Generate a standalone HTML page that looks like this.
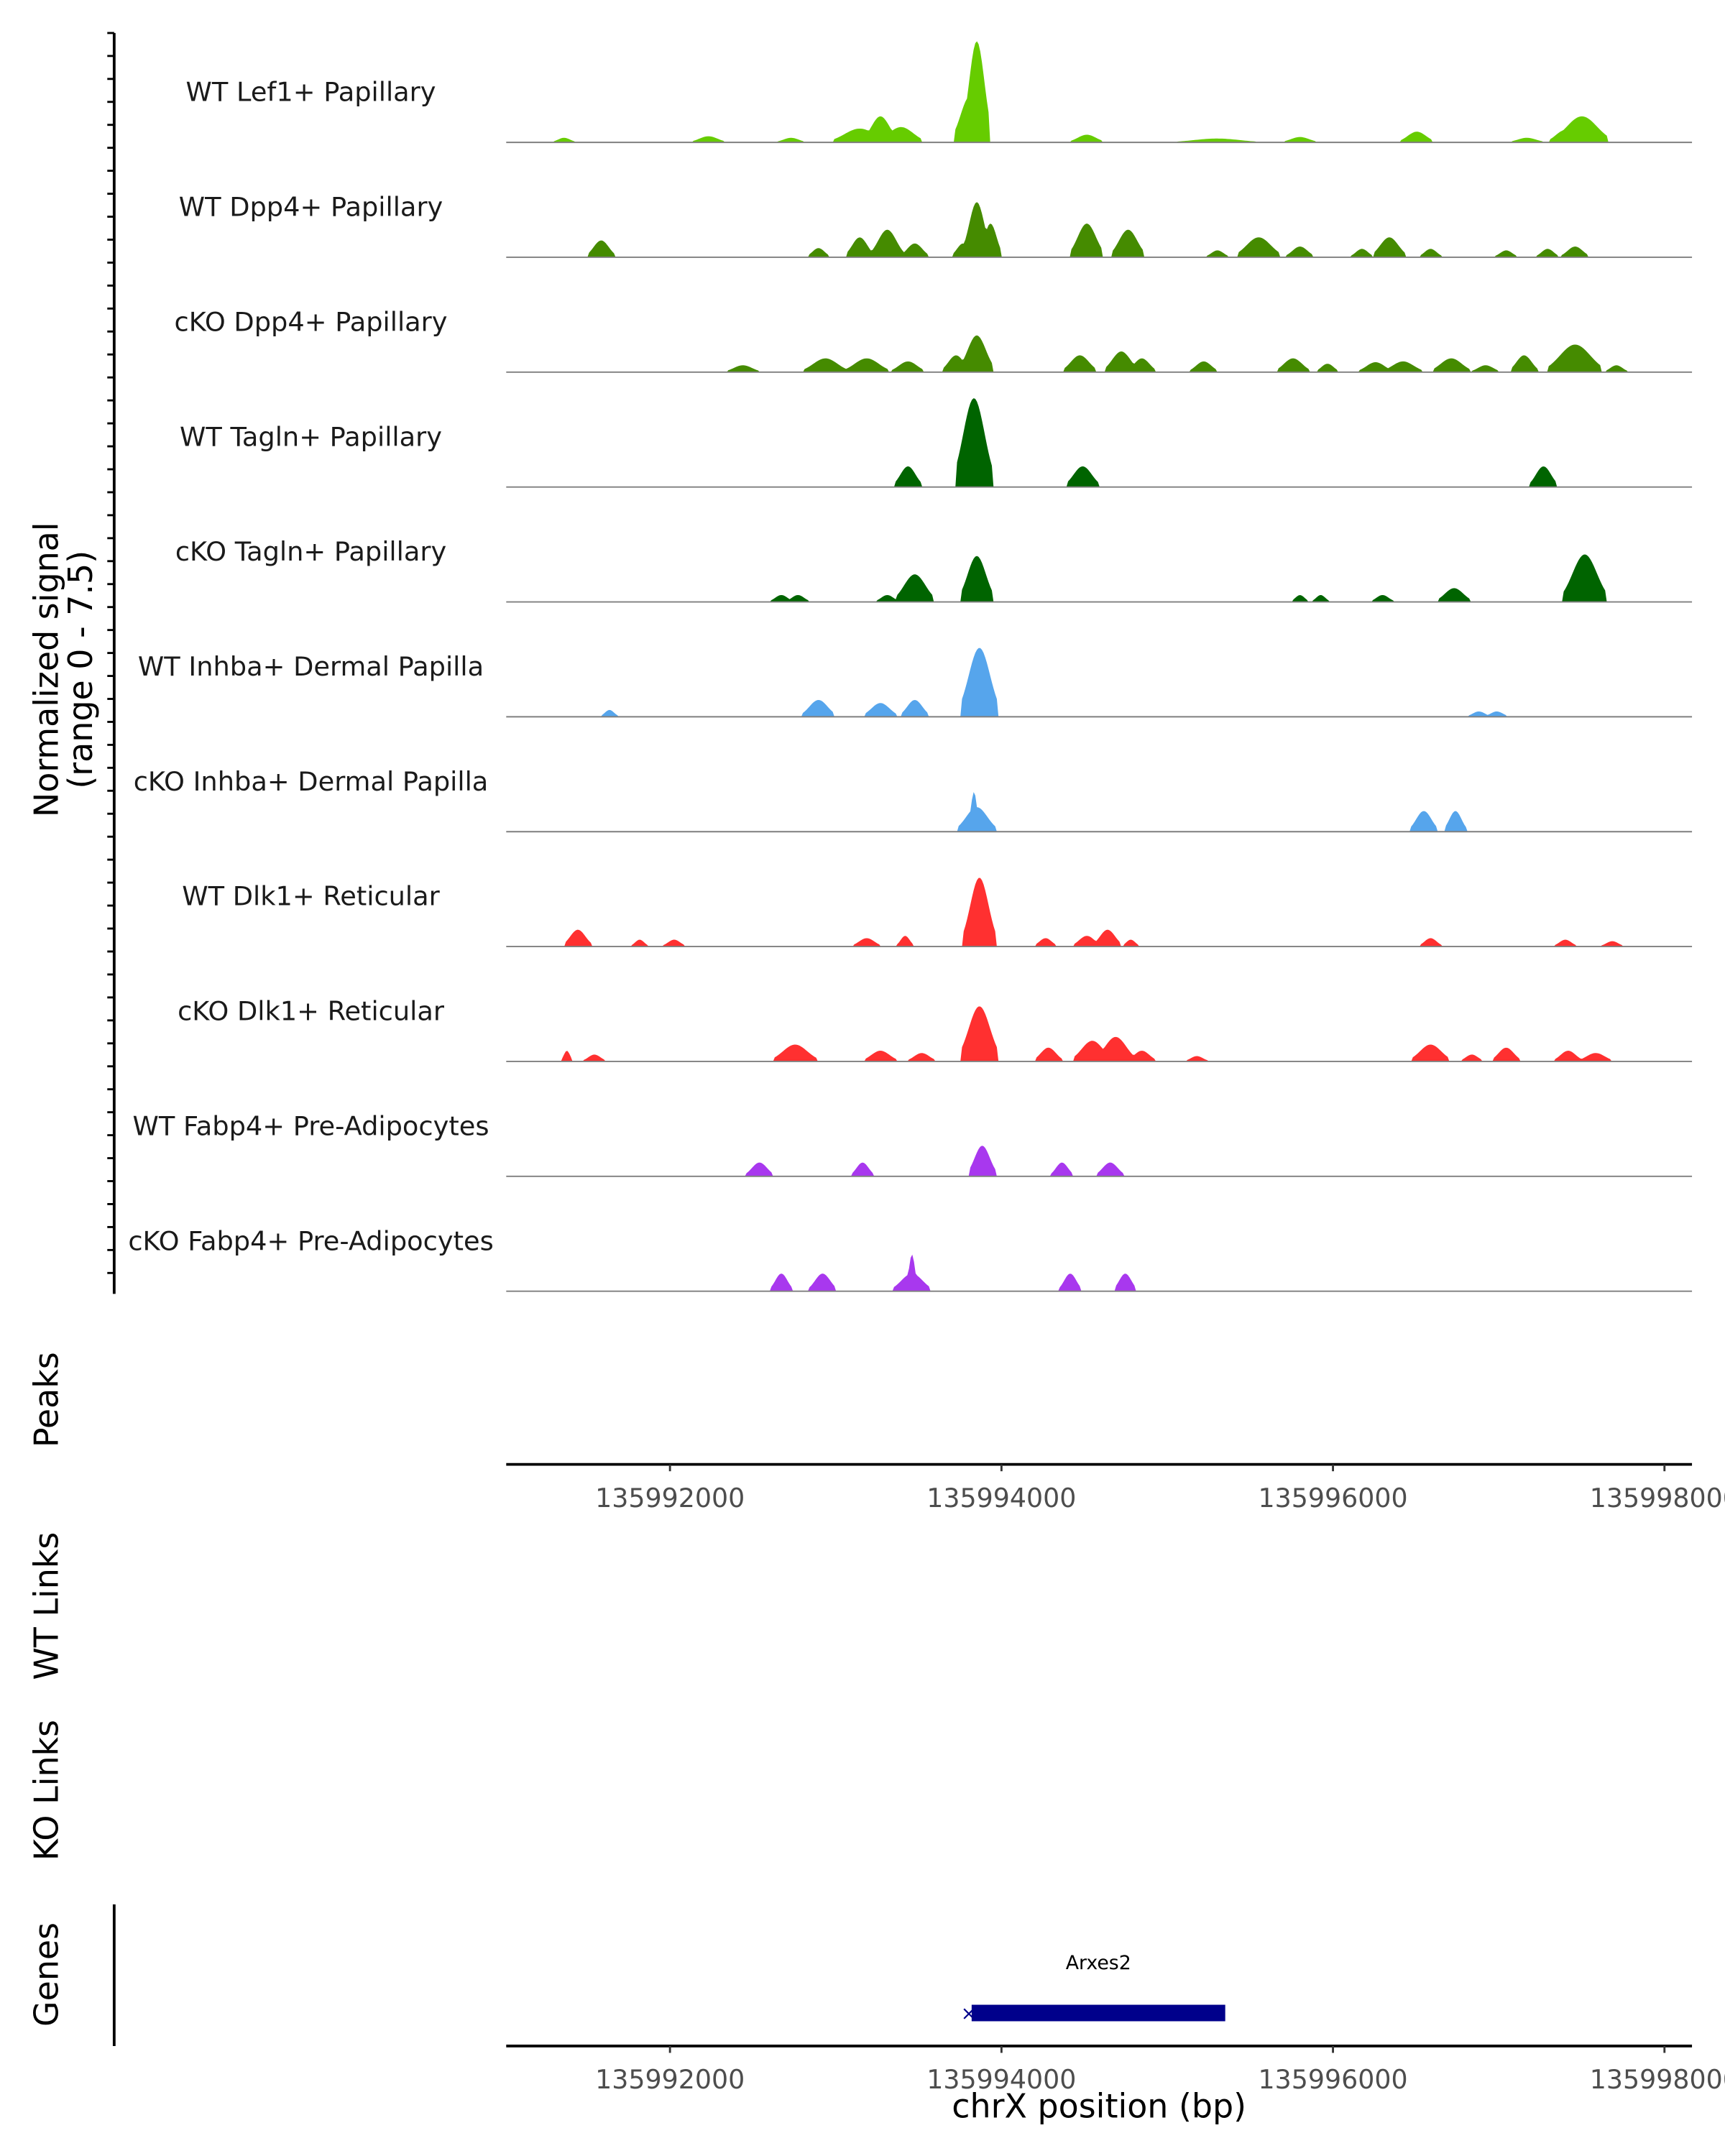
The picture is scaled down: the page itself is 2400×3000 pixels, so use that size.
<!DOCTYPE html>
<html><head><meta charset="utf-8">
<style>
html,body{margin:0;padding:0;background:#fff;}
svg{display:block;font-family:"DejaVu Sans","Liberation Sans",sans-serif;}
</style></head>
<body>
<svg id="chart" width="2400" height="3000" viewBox="0 0 1254 1568" preserveAspectRatio="none" xmlns="http://www.w3.org/2000/svg">
<g id="tracks"></g>
<g id="yaxis">
<line x1="83" y1="24" x2="83" y2="941" stroke="#000" stroke-width="2"/>
</g>
<text transform="translate(42,487) rotate(-90)" text-anchor="middle" font-size="24">Normalized signal</text>
<text transform="translate(67,487) rotate(-90)" text-anchor="middle" font-size="24">(range 0 - 7.5)</text>
<text transform="translate(42,1018) rotate(-90)" text-anchor="middle" font-size="24">Peaks</text>
<g id="xaxis1"></g>
<text transform="translate(42,1168) rotate(-90)" text-anchor="middle" font-size="24">WT Links</text>
<text transform="translate(42,1302) rotate(-90)" text-anchor="middle" font-size="24">KO Links</text>
<text transform="translate(42,1436) rotate(-90)" text-anchor="middle" font-size="24">Genes</text>
<line x1="83" y1="1385" x2="83" y2="1488" stroke="#000" stroke-width="2"/>
<g id="gene"></g>
<g id="xaxis2"></g>
<text x="799" y="1540" text-anchor="middle" font-size="24">chrX position (bp)</text>
</svg>
<script>
const NS="http://www.w3.org/2000/svg";
const trackNames=["WT Lef1+ Papillary","WT Dpp4+ Papillary","cKO Dpp4+ Papillary","WT Tagln+ Papillary","cKO Tagln+ Papillary","WT Inhba+ Dermal Papilla","cKO Inhba+ Dermal Papilla","WT Dlk1+ Reticular","cKO Dlk1+ Reticular","WT Fabp4+ Pre-Adipocytes","cKO Fabp4+ Pre-Adipocytes"];
const trackColors=["#66cc00","#458b00","#458b00","#006400","#006400","#56a5ec","#56a5ec","#ff3030","#ff3030","#a838ee","#a838ee"];
const tickValues=[135992000,135994000,135996000,135998000];
const tickLabels=["135992000","135994000","135996000","135998000"];
const lef1Centers=[135991361,135992232,135992730,135993145,135993270,135993394,135993809,135993851,135994515,135995300,135995801,135996506,135997170,135997400,135997502];
const lef1Widths=[40,60,50,100,60,80,60,50,60,150,60,60,60,60,100];
const lef1Heights=[0.3,0.4,0.3,0.9,1.7,1.0,3.0,6.6,0.5,0.25,0.35,0.7,0.3,0.8,1.7];
const dpp4WtCenters=[135991585,135992896,135993145,135993311,135993477,135993768,135993851,135993934,135994515,135994764,135995303,135995552,135995801,135996175,135996340,135996589,135997045,135997295,135997461];
const dpp4WtWidths=[50,40,50,60,50,40,50,40,60,60,40,80,50,40,60,40,40,40,50];
const dpp4WtHeights=[1.1,0.6,1.3,1.8,0.9,0.9,3.6,2.2,2.2,1.8,0.45,1.3,0.7,0.55,1.3,0.55,0.45,0.55,0.7];
const dpp4KoCenters=[135992440,135992938,135993187,135993436,135993726,135993851,135994473,135994723,135994847,135995220,135995759,135995967,135996257,135996423,135996714,135996921,135997153,135997461,135997710];
const dpp4KoWidths=[60,80,80,60,50,60,60,60,50,50,60,40,60,70,70,50,50,100,40];
const dpp4KoHeights=[0.45,0.9,0.9,0.7,1.1,2.4,1.1,1.35,0.9,0.7,0.9,0.55,0.65,0.7,0.9,0.45,1.1,1.8,0.45];
const taglnWtCenters=[135993436,135993834,135994490,135997270];
const taglnWtWidths=[50,70,60,50];
const taglnWtHeights=[1.35,5.8,1.35,1.35];
const taglnKoCenters=[135992672,135992772,135993311,135993477,135993851,135995801,135995926,135996299,135996731,135997519];
const taglnKoWidths=[40,40,40,70,60,30,30,40,60,80];
const taglnKoHeights=[0.45,0.45,0.45,1.8,3.0,0.45,0.45,0.45,0.9,3.1];
const inhbaWtCenters=[135991635,135992896,135993270,135993477,135993867];
const inhbaWtWidths=[30,60,60,50,70];
const inhbaWtHeights=[0.45,1.1,0.9,1.1,4.5];
const inhbaWtExtraCenters=[135996880,135996988];
const inhbaWtExtraHeights=[0.35,0.35];
const inhbaKoCenters=[135993851,135993834,135996548,135996739];
const inhbaKoWidths=[70,20,50,40];
const inhbaKoHeights=[1.6,2.6,1.35,1.35];
const dlk1WtCenters=[135991444,135991817,135992025,135993187,135993419,135993867,135994266,135994515,135994640,135994780,135996589,135997402,135997685];
const dlk1WtWidths=[50,30,40,50,30,60,40,50,50,30,40,40,40];
const dlk1WtHeights=[1.1,0.45,0.45,0.55,0.7,4.5,0.55,0.7,1.1,0.45,0.55,0.45,0.35];
const dlk1KoCenters=[135991378,135991544,135992755,135993270,135993519,135993867,135994283,135994548,135994689,135994847,135995179,135996589,135996838,135997045,135997419,135997585];
const dlk1KoWidths=[20,40,80,60,50,70,50,70,70,50,40,70,40,50,50,60];
const dlk1KoHeights=[0.7,0.45,1.1,0.7,0.55,3.6,0.9,1.35,1.6,0.7,0.35,1.1,0.45,0.9,0.7,0.55];
const fabp4WtCenters=[135992540,135993162,135993884,135994365,135994656];
const fabp4WtWidths=[50,40,50,40,50];
const fabp4WtHeights=[0.9,0.9,2.0,0.9,0.9];
const fabp4KoCenters=[135992672,135992921,135993460,135993460,135994415,135994747];
const fabp4KoWidths=[40,50,70,20,40,40];
const fabp4KoHeights=[1.15,1.15,1.15,2.4,1.15,1.15];
const geneName="Arxes2", geneStart=135993820, geneEnd=135995350;

const trackPeaks=[
 [lef1Centers,lef1Widths,lef1Heights],
 [dpp4WtCenters,dpp4WtWidths,dpp4WtHeights],
 [dpp4KoCenters,dpp4KoWidths,dpp4KoHeights],
 [taglnWtCenters,taglnWtWidths,taglnWtHeights],
 [taglnKoCenters,taglnKoWidths,taglnKoHeights],
 [inhbaWtCenters.concat(inhbaWtExtraCenters),inhbaWtWidths.concat([40,40]),inhbaWtHeights.concat(inhbaWtExtraHeights)],
 [inhbaKoCenters,inhbaKoWidths,inhbaKoHeights],
 [dlk1WtCenters,dlk1WtWidths,dlk1WtHeights],
 [dlk1KoCenters,dlk1KoWidths,dlk1KoHeights],
 [fabp4WtCenters,fabp4WtWidths,fabp4WtHeights],
 [fabp4KoCenters,fabp4KoWidths,fabp4KoHeights]
];

const X0=368,X1=1230,BP0=135991012,BP1=135998166;
function xScale(bp){return X0+(bp-BP0)*(X1-X0)/(BP1-BP0);}
const trackTop=20,trackH=83.55,YMAX=7.5;
function baseY(i){return trackTop+(i+1)*trackH;}
function yScale(i,v){return baseY(i)-Math.min(v,YMAX)/YMAX*trackH;}

const tracks=document.getElementById('tracks');
trackNames.forEach((name,i)=>{
  const g=document.createElementNS(NS,'g');
  
  
  const [cs,ws,hs]=trackPeaks[i];
  let pts=[];
  for(let bp=BP0;bp<=BP1;bp+=10){
    let v=0;
    for(let k=0;k<cs.length;k++){
      const d=(bp-cs[k])/ws[k];
      if(Math.abs(d)<1.6){const t=hs[k]*Math.exp(-d*d*0.6);if(t>v)v=t;}
    }
    pts.push(xScale(bp).toFixed(2)+','+yScale(i,v).toFixed(2));
  }
  const area=document.createElementNS(NS,'polygon');
  
  
  area.setAttribute('points',X0+','+baseY(i)+' '+pts.join(' ')+' '+X1+','+baseY(i));
  area.setAttribute('fill',trackColors[i]);
  g.appendChild(area);
  const bl=document.createElementNS(NS,'line');
  
  
  bl.setAttribute('x1',X0);bl.setAttribute('x2',X1);
  bl.setAttribute('y1',baseY(i));bl.setAttribute('y2',baseY(i));
  bl.setAttribute('stroke','#7f7f7f');bl.setAttribute('stroke-width','1');
  g.appendChild(bl);
  const lb=document.createElementNS(NS,'text');
  
  
  lb.setAttribute('x',226);lb.setAttribute('y',baseY(i)-30);
  lb.setAttribute('text-anchor','middle');lb.setAttribute('font-size','19.2');
  lb.setAttribute('fill','#1a1a1a');
  lb.textContent=name;
  g.appendChild(lb);
  tracks.appendChild(g);
});
const yaxis=document.getElementById('yaxis');
for(let y=24;y<=941;y+=16.7){
  const t=document.createElementNS(NS,'line');
  
  
  t.setAttribute('x1',78);t.setAttribute('x2',83);
  t.setAttribute('y1',y);t.setAttribute('y2',y);
  t.setAttribute('stroke','#000');t.setAttribute('stroke-width','1.5');
  yaxis.appendChild(t);
}
function drawXAxis(id,y){
  const g=document.getElementById(id);
  const l=document.createElementNS(NS,'line');
  
  
  l.setAttribute('x1',X0);l.setAttribute('x2',X1);l.setAttribute('y1',y);l.setAttribute('y2',y);
  l.setAttribute('stroke','#000');l.setAttribute('stroke-width','2');
  g.appendChild(l);
  tickValues.forEach((v,k)=>{
    const x=xScale(v);
    const t=document.createElementNS(NS,'line');
    
    
    t.setAttribute('x1',x);t.setAttribute('x2',x);t.setAttribute('y1',y);t.setAttribute('y2',y+5);
    t.setAttribute('stroke','#333');t.setAttribute('stroke-width','1.5');
    g.appendChild(t);
    const tx=document.createElementNS(NS,'text');
    
    
    tx.setAttribute('x',x);tx.setAttribute('y',y+31);
    tx.setAttribute('text-anchor','middle');tx.setAttribute('font-size','19');tx.setAttribute('fill','#4d4d4d');
    tx.textContent=tickLabels[k];
    g.appendChild(tx);
  });
}
drawXAxis('xaxis1',1065);
drawXAxis('xaxis2',1488);
const gg=document.getElementById('gene');
const gb=document.createElementNS(NS,'rect');


gb.setAttribute('x',xScale(geneStart));gb.setAttribute('y',1458);
gb.setAttribute('width',xScale(geneEnd)-xScale(geneStart));gb.setAttribute('height',12);
gb.setAttribute('fill','#00008b');
gg.appendChild(gb);
const gl=document.createElementNS(NS,'text');


gl.setAttribute('x',(xScale(geneStart)+xScale(geneEnd))/2);gl.setAttribute('y',1432);
gl.setAttribute('text-anchor','middle');gl.setAttribute('font-size','14');
gl.textContent=geneName;
gg.appendChild(gl);
const ga=document.createElementNS(NS,'text');


ga.setAttribute('x',xScale(geneStart)-2);ga.setAttribute('y',1469);
ga.setAttribute('text-anchor','middle');ga.setAttribute('font-size','14');ga.setAttribute('fill','#00008b');
ga.textContent='×';
gg.appendChild(ga);
</script>
</body></html>
